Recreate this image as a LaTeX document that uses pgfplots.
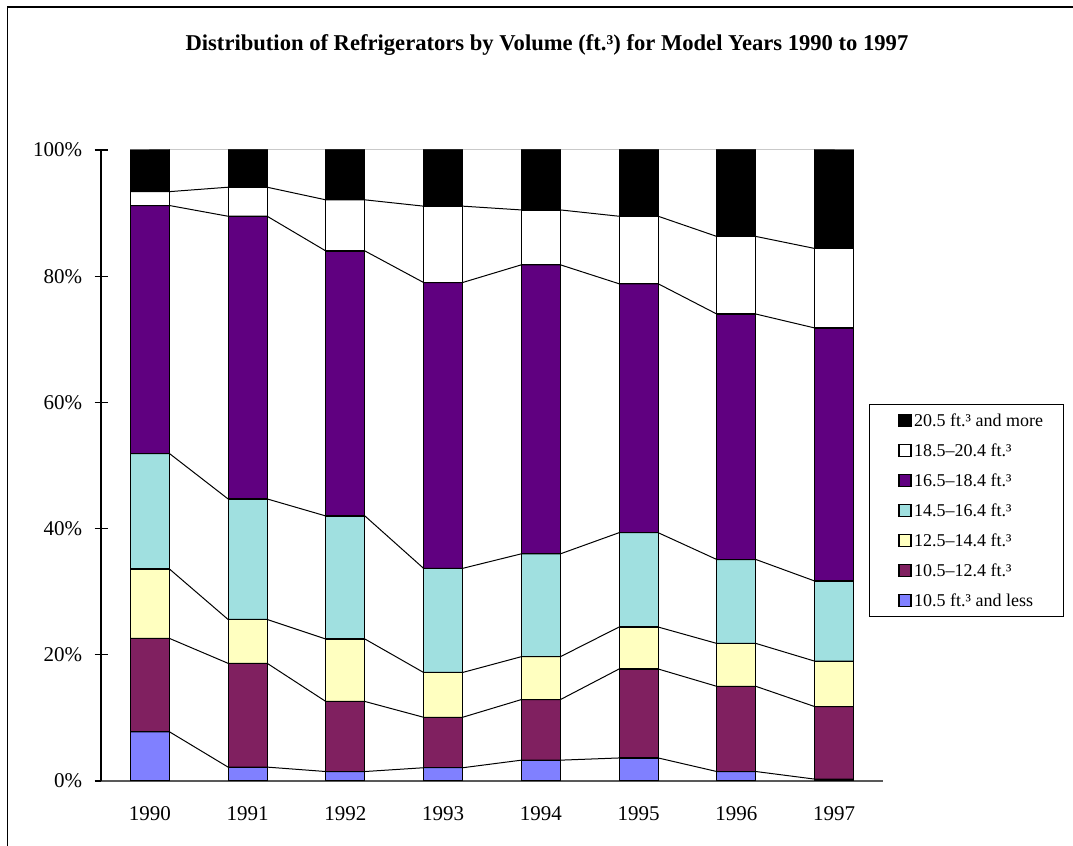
\documentclass[border=0pt]{standalone}
\usepackage{fontspec}
\setmainfont{Liberation Serif}
\usepackage{pgfplots}
\usepackage{pgfplotstable}
\pgfplotsset{compat=1.18}
\definecolor{cBlue}{HTML}{8080FF}
\definecolor{cMaroon}{HTML}{802060}
\definecolor{cYellow}{HTML}{FFFFC0}
\definecolor{cCyan}{HTML}{A0E0E0}
\definecolor{cPurple}{HTML}{600080}

% individual shares (%) per model year (x = 0..7 -> 1990..1997)
\pgfplotstableread{
x blue maroon yellow cyan purple white black
0 7.8  14.8  11.0  18.3  39.3  2.2  6.6
1 2.2  16.45 6.95  19.1  44.8  4.6  5.9
2 1.5  11.1  9.9   19.5  42.0  8.1  7.9
3 2.1  8.0   7.1   16.5  45.3  12.1 8.9
4 3.3  9.6   6.8   16.3  45.8  8.7  9.5
5 3.65 14.1  6.65  14.95 39.45 10.7 10.5
6 1.5  13.5  6.8   13.3  38.9  12.3 13.7
7 0.3  11.5  7.2   12.7  40.1  12.6 15.6
}\barData

% cumulative boundaries at bar edges (series lines)
\pgfplotstableread{
x    b1   b2    b3   b4    b5   b6   b7
-0.2 7.8  22.6  33.6 51.9  91.2 93.4 100
0.2  7.8  22.6  33.6 51.9  91.2 93.4 100
0.8  2.2  18.65 25.6 44.7  89.5 94.1 100
1.2  2.2  18.65 25.6 44.7  89.5 94.1 100
1.8  1.5  12.6  22.5 42.0  84.0 92.1 100
2.2  1.5  12.6  22.5 42.0  84.0 92.1 100
2.8  2.1  10.1  17.2 33.7  79.0 91.1 100
3.2  2.1  10.1  17.2 33.7  79.0 91.1 100
3.8  3.3  12.9  19.7 36.0  81.8 90.5 100
4.2  3.3  12.9  19.7 36.0  81.8 90.5 100
4.8  3.65 17.75 24.4 39.35 78.8 89.5 100
5.2  3.65 17.75 24.4 39.35 78.8 89.5 100
5.8  1.5  15.0  21.8 35.1  74.0 86.3 100
6.2  1.5  15.0  21.8 35.1  74.0 86.3 100
6.8  0.3  11.8  19.0 31.7  71.8 84.4 100
7.2  0.3  11.8  19.0 31.7  71.8 84.4 100
}\lineData

\pgfplotsset{
  sqlegend/.style={legend image code/.code={%
    \path (0pt,0pt);
    \draw[##1,line width=0.6pt] (5.5pt,-3pt) rectangle (11.5pt,3pt);}},
}

\begin{document}
\begin{tikzpicture}
\path[use as bounding box] (0,0) rectangle (536.5pt,423pt);
\draw[line width=0.7pt] (3.6pt,-5pt) -- (3.6pt,419.4pt) -- (545pt,419.4pt);

\begin{axis}[
  at={(50.5pt,32.5pt)}, anchor=south west,
  scale only axis, width=391pt, height=315.5pt,
  xmin=-0.5, xmax=7.5, ymin=0, ymax=100,
  ybar stacked, bar width=19.5pt,
  axis x line*=bottom, axis y line*=left,
  x axis line style={black!65, line width=0.6pt, -},
  y axis line style={black, line width=0.6pt, -},
  xtick={0,1,2,3,4,5,6,7},
  xticklabels={1990,1991,1992,1993,1994,1995,1996,1997},
  xtick style={draw=none},
  ytick={0,20,40,60,80,100},
  yticklabels={0\%,20\%,40\%,60\%,80\%,100\%},
  ytick style={black, line width=0.6pt},
  tick align=center, major tick length=6.5pt,
  ticklabel style={font=\fontsize{10.5}{12}\selectfont},
  yticklabel style={inner sep=0pt, xshift=-6pt},
  xticklabel style={inner sep=0pt, yshift=-9.25pt},
  every axis title shift=0pt,
  title={Distribution of Refrigerators by Volume (ft.³) for Model Years 1990 to 1997},
  title style={at={(axis description cs:0.5703,1.1569)}, anchor=base, yshift=0pt,
    font=\bfseries\fontsize{11.3}{13}\selectfont, inner sep=0pt},
  reverse legend,
  legend cell align=left,
  legend style={at={(axis description cs:0.9821,0.5975)}, anchor=north west,
    draw=black, line width=0.5pt, fill=white,
    inner xsep=9pt, inner ysep=3.75pt,
    font=\fontsize{9}{10}\selectfont,
    nodes={inner xsep=1.25pt, inner ysep=0pt, text height=7.5pt, text depth=1pt},
    row sep=6.5pt},
]
\addplot[fill=cBlue, draw=black, line width=0.6pt, sqlegend] table[x=x,y=blue]{\barData};
\addplot[fill=cMaroon, draw=black, line width=0.6pt, sqlegend] table[x=x,y=maroon]{\barData};
\addplot[fill=cYellow, draw=black, line width=0.6pt, sqlegend] table[x=x,y=yellow]{\barData};
\addplot[fill=cCyan, draw=black, line width=0.6pt, sqlegend] table[x=x,y=cyan]{\barData};
\addplot[fill=cPurple, draw=black, line width=0.6pt, sqlegend] table[x=x,y=purple]{\barData};
\addplot[fill=white, draw=black, line width=0.6pt, sqlegend] table[x=x,y=white]{\barData};
\addplot[fill=black, draw=black, line width=0.6pt, sqlegend] table[x=x,y=black]{\barData};
\legend{10.5 ft.³ and less,10.5–12.4 ft.³,12.5–14.4 ft.³,14.5–16.4 ft.³,16.5–18.4 ft.³,18.5–20.4 ft.³,20.5 ft.³ and more}
\end{axis}

\begin{axis}[
  at={(50.5pt,32.5pt)}, anchor=south west,
  scale only axis, width=391pt, height=315.5pt,
  xmin=-0.5, xmax=7.5, ymin=0, ymax=100,
  hide axis, clip=false,
]
\addplot[black, line width=0.5pt, mark=none] table[x=x,y=b1]{\lineData};
\addplot[black, line width=0.5pt, mark=none] table[x=x,y=b2]{\lineData};
\addplot[black, line width=0.5pt, mark=none] table[x=x,y=b3]{\lineData};
\addplot[black, line width=0.5pt, mark=none] table[x=x,y=b4]{\lineData};
\addplot[black, line width=0.5pt, mark=none] table[x=x,y=b5]{\lineData};
\addplot[black, line width=0.5pt, mark=none] table[x=x,y=b6]{\lineData};
\addplot[black!60, line width=0.5pt, mark=none] table[x=x,y=b7]{\lineData};
\end{axis}
\end{tikzpicture}
\end{document}
